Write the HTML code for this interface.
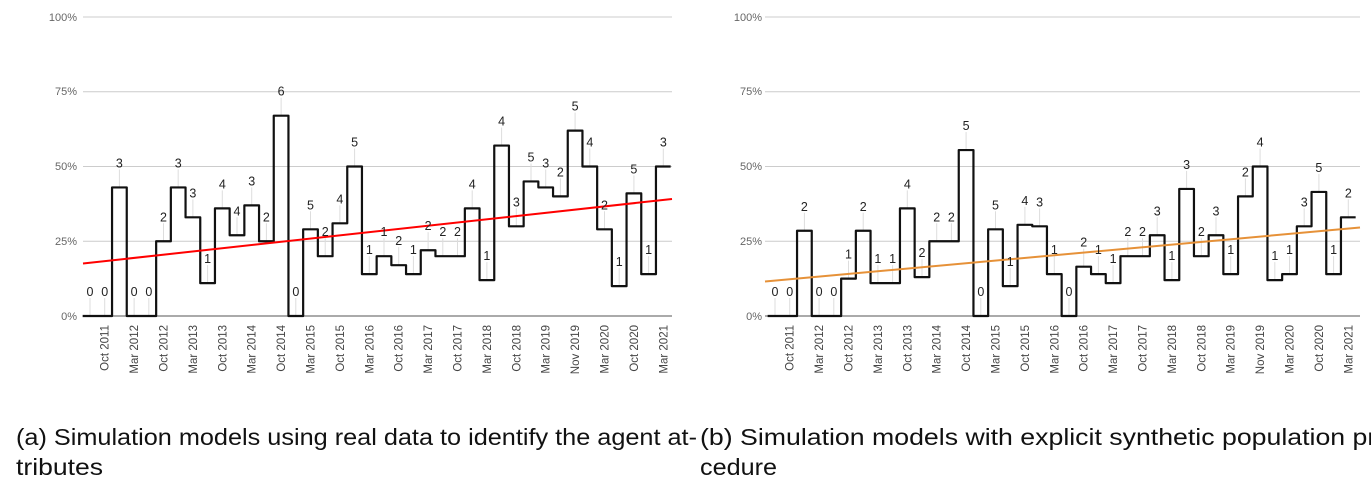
<!DOCTYPE html>
<html><head><meta charset="utf-8"><style>
html,body{margin:0;padding:0;background:#fff;width:1371px;height:484px;overflow:hidden}
svg{position:absolute;left:0;top:0}
.yl{font:11px "Liberation Sans",sans-serif;fill:#666;text-anchor:end}
.xl{font:11.5px "Liberation Sans",sans-serif;fill:#444;text-anchor:end}
.v{font:12.5px "Liberation Sans",sans-serif;fill:#222;text-anchor:middle}
.cap{font:23px "Liberation Sans",sans-serif;fill:#111}
</style></head><body>
<svg width="1371" height="484" xmlns="http://www.w3.org/2000/svg">
<g id="grid"></g>
<g>
<text class="yl" x="77" y="21">100%</text><text class="yl" x="77" y="95">75%</text><text class="yl" x="77" y="170">50%</text><text class="yl" x="77" y="245">25%</text><text class="yl" x="77" y="320">0%</text>
<text class="yl" x="762" y="21">100%</text><text class="yl" x="762" y="95">75%</text><text class="yl" x="762" y="170">50%</text><text class="yl" x="762" y="245">25%</text><text class="yl" x="762" y="320">0%</text>
</g>
<g id="xa"><text class="xl">Oct 2011</text><text class="xl">Mar 2012</text><text class="xl">Oct 2012</text><text class="xl">Mar 2013</text><text class="xl">Oct 2013</text><text class="xl">Mar 2014</text><text class="xl">Oct 2014</text><text class="xl">Mar 2015</text><text class="xl">Oct 2015</text><text class="xl">Mar 2016</text><text class="xl">Oct 2016</text><text class="xl">Mar 2017</text><text class="xl">Oct 2017</text><text class="xl">Mar 2018</text><text class="xl">Oct 2018</text><text class="xl">Mar 2019</text><text class="xl">Nov 2019</text><text class="xl">Mar 2020</text><text class="xl">Oct 2020</text><text class="xl">Mar 2021</text></g>
<g id="xb"><text class="xl">Oct 2011</text><text class="xl">Mar 2012</text><text class="xl">Oct 2012</text><text class="xl">Mar 2013</text><text class="xl">Oct 2013</text><text class="xl">Mar 2014</text><text class="xl">Oct 2014</text><text class="xl">Mar 2015</text><text class="xl">Oct 2015</text><text class="xl">Mar 2016</text><text class="xl">Oct 2016</text><text class="xl">Mar 2017</text><text class="xl">Oct 2017</text><text class="xl">Mar 2018</text><text class="xl">Oct 2018</text><text class="xl">Mar 2019</text><text class="xl">Nov 2019</text><text class="xl">Mar 2020</text><text class="xl">Oct 2020</text><text class="xl">Mar 2021</text></g>
<g id="lines"></g>
<line x1="83" y1="263.5" x2="672" y2="199" stroke="#f00" stroke-width="2"/>
<line x1="765" y1="281.5" x2="1360" y2="227.5" stroke="#e69138" stroke-width="2"/>
<g id="va"><text class="v">0</text><text class="v">0</text><text class="v">3</text><text class="v">0</text><text class="v">0</text><text class="v">2</text><text class="v">3</text><text class="v">3</text><text class="v">1</text><text class="v">4</text><text class="v">4</text><text class="v">3</text><text class="v">2</text><text class="v">6</text><text class="v">0</text><text class="v">5</text><text class="v">2</text><text class="v">4</text><text class="v">5</text><text class="v">1</text><text class="v">1</text><text class="v">2</text><text class="v">1</text><text class="v">2</text><text class="v">2</text><text class="v">2</text><text class="v">4</text><text class="v">1</text><text class="v">4</text><text class="v">3</text><text class="v">5</text><text class="v">3</text><text class="v">2</text><text class="v">5</text><text class="v">4</text><text class="v">2</text><text class="v">1</text><text class="v">5</text><text class="v">1</text><text class="v">3</text></g>
<g id="vb"><text class="v">0</text><text class="v">0</text><text class="v">2</text><text class="v">0</text><text class="v">0</text><text class="v">1</text><text class="v">2</text><text class="v">1</text><text class="v">1</text><text class="v">4</text><text class="v">2</text><text class="v">2</text><text class="v">2</text><text class="v">5</text><text class="v">0</text><text class="v">5</text><text class="v">1</text><text class="v">4</text><text class="v">3</text><text class="v">1</text><text class="v">0</text><text class="v">2</text><text class="v">1</text><text class="v">1</text><text class="v">2</text><text class="v">2</text><text class="v">3</text><text class="v">1</text><text class="v">3</text><text class="v">2</text><text class="v">3</text><text class="v">1</text><text class="v">2</text><text class="v">4</text><text class="v">1</text><text class="v">1</text><text class="v">3</text><text class="v">5</text><text class="v">1</text><text class="v">2</text></g>
<text class="cap" x="16" y="445" textLength="681" lengthAdjust="spacingAndGlyphs">(a) Simulation models using real data to identify the agent at-</text>
<text class="cap" x="16" y="475" textLength="87" lengthAdjust="spacingAndGlyphs">tributes</text>
<text class="cap" x="700" y="445" textLength="700" lengthAdjust="spacingAndGlyphs">(b) Simulation models with explicit synthetic population pro-</text>
<text class="cap" x="700" y="475" textLength="77" lengthAdjust="spacingAndGlyphs">cedure</text>
</svg>
<script>
var NS="http://www.w3.org/2000/svg";
function el(p,n,a){var e=document.createElementNS(NS,n);for(var k in a)e.setAttribute(k,a[k]);p.appendChild(e);return e;}
var A=[0,0,43,0,0,25,43,33,11,36,27,37,25,67,0,29,20,31,50,14,20,17,14,22,20,20,36,12,57,30,45,43,40,62,50,29,10,41,14,50];
var B=[0,0,28.5,0,0,12.5,28.5,11,11,36,13,25,25,55.5,0,29,10,30.5,30,14,0,16.5,14,11,20,20,27,12,42.5,20,27,14,40,50,12,14,30,41.5,14,33];
var g=document.getElementById('grid'),L=document.getElementById('lines');
[[83,672],[765,1360]].forEach(function(r){
 [0,25,50,75,100].forEach(function(p){var y=316-p*2.99;el(g,'line',{x1:r[0],x2:r[1],y1:y,y2:y,stroke:p==0?'#555':'#ccc','stroke-width':1});});
});
function chart(vals,x0,vid,xid){
 var d='',s=14.7,h=s/2;
 vals.forEach(function(v,i){var x=x0+s*i,y=316-v*2.99;
  d+=(i==0?'M':'L')+(x-h)+','+y+' L'+(x+h)+','+y+' ';
  el(L,'line',{x1:x,x2:x,y1:y-18,y2:y,stroke:'#ddd','stroke-width':1});
 });
 el(L,'path',{d:d,fill:'none',stroke:'#111','stroke-width':2.2,'stroke-linejoin':'round'});
 var t=document.getElementById(vid).children;
 for(var i=0;i<t.length;i++){t[i].setAttribute('x',x0+s*i);t[i].setAttribute('y',316-vals[i]*2.99-20);}
 var xt=document.getElementById(xid).children;
 for(var j=0;j<xt.length;j++){var x=x0+s*(2*j+1)+4;xt[j].setAttribute('transform','translate('+x+',325) rotate(-90)');}
}
chart(A,90,'va','xa');chart(B,775,'vb','xb');
</script>
</body></html>
